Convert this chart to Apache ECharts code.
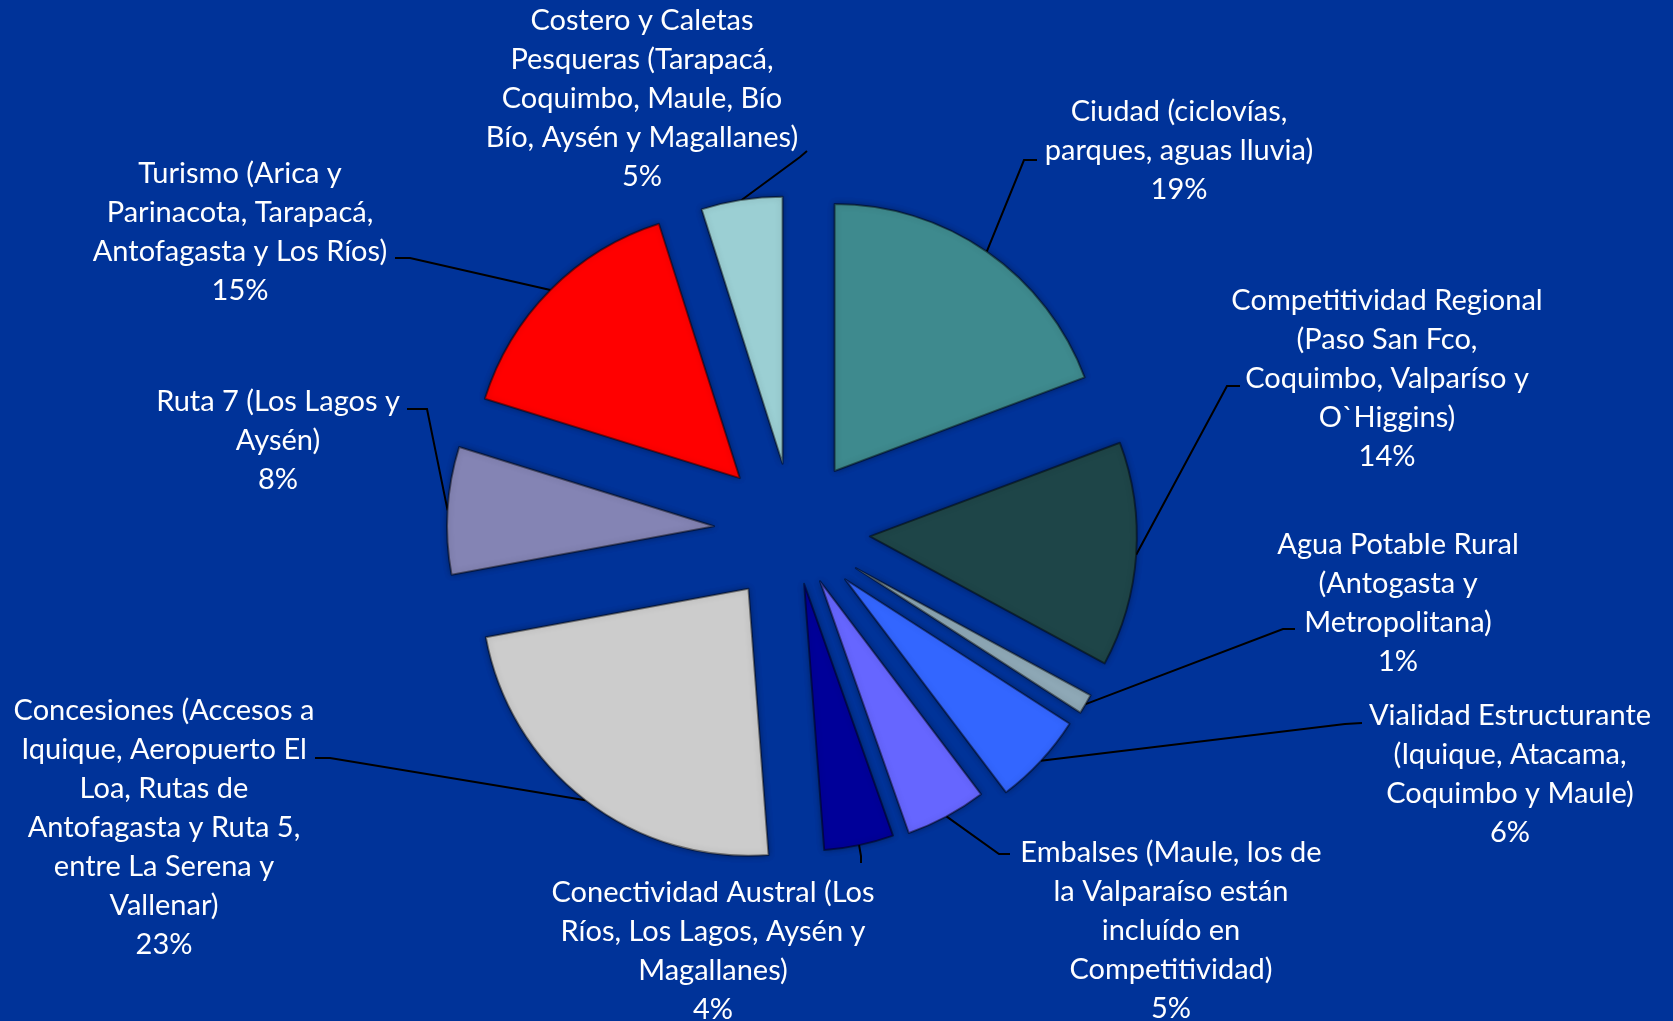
<!DOCTYPE html>
<html>
<head>
<meta charset="utf-8">
<script src="https://cdn.jsdelivr.net/npm/echarts@6/dist/echarts.min.js"></script>
<style>
  html, body { margin: 0; padding: 0; background: #003399; }
  #chart { width: 1673px; height: 1021px; }
</style>
</head>
<body>
<div id="chart"></div>
<script>
// categorías (en sentido horario desde las 12)
var categories = [
  'Ciudad (ciclovías,\nparques, aguas lluvia)',
  'Competitividad Regional\n(Paso San Fco,\nCoquimbo, Valparíso y\nO`Higgins)',
  'Agua Potable Rural\n(Antogasta y\nMetropolitana)',
  'Vialidad Estructurante\n(Iquique, Atacama,\nCoquimbo y Maule)',
  'Embalses (Maule, los de\nla Valparaíso están\nincluído en\nCompetitividad)',
  'Conectividad Austral (Los\nRíos, Los Lagos, Aysén y\nMagallanes)',
  'Concesiones (Accesos a\nIquique, Aeropuerto El\nLoa, Rutas de\nAntofagasta y Ruta 5,\nentre La Serena y\nVallenar)',
  'Ruta 7 (Los Lagos y\nAysén)',
  'Turismo (Arica y\nParinacota, Tarapacá,\nAntofagasta y Los Ríos)',
  'Costero y Caletas\nPesqueras (Tarapacá,\nCoquimbo, Maule, Bío\nBío, Aysén y Magallanes)'
];
var values = [19.3, 13.6, 1.2, 5.6, 4.9, 4.2, 23.3, 7.7, 15.3, 4.9];
var colors = ['#3e8a8e', '#1e4548', '#8ea8b6', '#3366ff', '#6666ff',
              '#000099', '#cccccc', '#8484b4', '#ff0000', '#9bcfd3'];
// separación de cada porción (px)
var explode = [73, 77, 73, 71, 57, 54, 73, 79, 75, 68];

// posición de etiquetas: [centro x, centro y], codo y final de la línea guía
var labelCenters = [[1179, 151], [1387, 379], [1398, 603], [1510, 774], [1171, 931],
                    [713, 951], [164, 828], [278, 441], [240, 232], [642, 99]];
var guideEnds = [
  [[1024, 160], [1037, 160]],
  [[1227, 386], [1240, 386]],
  [[1283, 629], [1295, 629]],
  [[1345, 724], [1362, 723]],
  [[999, 854], [1010, 854]],
  [[861, 856], [861, 863]],
  [[330, 758], [315, 758]],
  [[427, 409], [407, 409]],
  [[410, 258], [395, 258]],
  [[800, 157], [807, 151]]
];

var cx = 793, cy = 531, radius = 267;
var hidden = { color: 'rgba(0,0,0,0)', borderColor: 'rgba(0,0,0,0)', borderWidth: 0,
               shadowBlur: 0, shadowColor: 'rgba(0,0,0,0)' };

var total = values.reduce(function (a, b) { return a + b; }, 0);
var midAngles = [];
var acc = 0;
values.forEach(function (v) {
  midAngles.push((acc + v / 2) / total * Math.PI * 2);
  acc += v;
});

// una serie por porción, para poder separar cada una a su distancia
var sliceSeries = categories.map(function (_, k) {
  return {
    type: 'pie',
    center: [cx, cy],
    radius: radius,
    startAngle: 90,
    clockwise: true,
    silent: true,
    selectedMode: 'multiple',
    selectedOffset: explode[k],
    emphasis: { disabled: true },
    label: { show: false },
    labelLine: { show: false },
    itemStyle: {
      borderColor: 'rgba(0,0,0,0.45)',
      borderWidth: 2,
      shadowBlur: 6,
      shadowColor: 'rgba(0,0,0,0.35)'
    },
    data: categories.map(function (name, i) {
      return {
        name: name,
        value: values[i],
        selected: true,
        itemStyle: i === k ? { color: colors[i] } : hidden
      };
    })
  };
});

var labelSeries = {
  // mismas porciones, invisibles, solo para las etiquetas
  type: 'pie',
  center: [cx, cy],
  radius: radius,
  startAngle: 90,
  clockwise: true,
  silent: true,
  avoidLabelOverlap: false,
  emphasis: { disabled: true },
  itemStyle: hidden,
  label: {
    show: true,
    position: 'outside',
    color: '#ffffff',
    fontFamily: 'Lato',
    fontSize: 29,
    lineHeight: 39,
    align: 'center',
    formatter: function (p) {
      return p.name + '\n' + Math.round(p.percent) + '%';
    }
  },
  labelLine: {
    show: true,
    lineStyle: { color: '#000000', width: 2 }
  },
  labelLayout: function (p) {
    var i = p.dataIndex;
    var a = midAngles[i];
    var r = radius + explode[i];
    var start = [cx + r * Math.sin(a), cy - r * Math.cos(a)];
    return {
      x: labelCenters[i][0],
      y: labelCenters[i][1],
      align: 'center',
      verticalAlign: 'middle',
      labelLinePoints: [start, guideEnds[i][0], guideEnds[i][1]]
    };
  },
  data: categories.map(function (name, i) {
    return { name: name, value: values[i] };
  })
};

var chart = echarts.init(document.getElementById('chart'));
chart.setOption({
  backgroundColor: '#003399',
  animation: false,
  series: sliceSeries.concat([labelSeries])
});
</script>
</body>
</html>
